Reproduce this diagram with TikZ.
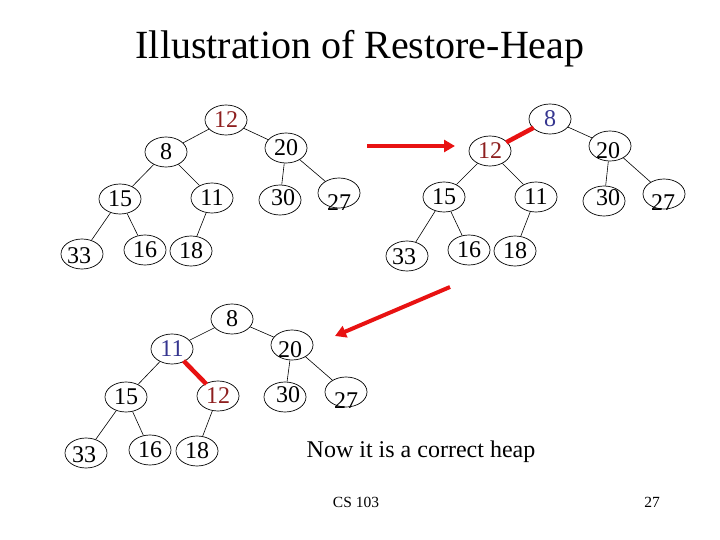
\documentclass[tikz,border=0pt]{standalone}
\usepackage{fontspec}
\setmainfont{Liberation Serif}
\usetikzlibrary{arrows.meta,shapes.geometric}
\definecolor{hred}{HTML}{8E1F1F}
\definecolor{hblue}{HTML}{35358F}
\definecolor{arrred}{HTML}{E81212}
\begin{document}
\begin{tikzpicture}[x=1pt,y=-1pt,
  hn/.style={draw,ellipse,line width=0.7pt,minimum width=42pt,minimum height=30pt,inner sep=0pt,font=\fontsize{24}{24}\selectfont},
  num/.style={inner sep=0pt,font=\fontsize{24}{24}\selectfont},
  edge/.style={line width=0.6pt},
  swap/.style={line width=4.5pt,draw=arrred,shorten <=-1pt,shorten >=-1pt},
  bigarrow/.style={line width=4pt,draw=arrred,-{Triangle[length=11pt,width=12pt]}}]
\useasboundingbox (0,0) rectangle (720,540);
\node[font=\fontsize{40}{40}\selectfont] (title) at (360,49) {Illustration of Restore-Heap};
% ---- tree 1
\node[hn,text=hred] (a12) at (226,120) {12};
\node[hn] (a8) at (166,152) {8};
\node[hn] (a20) at (286,148) {20};
\node[hn] (a15) at (120,199) {15};
\node[hn] (a11) at (212,198) {11};
\node[hn] (a30) at (280,200) {};
\node[num] (a30t) at (283,198) {30};
\node[hn] (a27) at (339,193) {};
\node[num] (a27t) at (339,203) {27};
\node[hn] (a33) at (82,254) {};
\node[num] (a33t) at (79,256) {33};
\node[hn] (a16) at (145,250) {16};
\node[hn] (a18) at (191,251) {18};
\draw[edge] (a12)--(a8) (a12)--(a20) (a8)--(a15) (a8)--(a11) (a20)--(a30) (a20)--(a27) (a15)--(a33) (a15)--(a16) (a11)--(a18);
% ---- tree 2
\node[hn,text=hblue] (b8) at (550,119) {8};
\node[hn,text=hred] (b12) at (490,151) {12};
\node[hn] (b20) at (610,146) {};
\node[num] (b20t) at (608,151) {20};
\node[hn] (b15) at (444,197) {15};
\node[hn] (b11) at (536,197) {11};
\node[hn] (b30) at (604,201) {};
\node[num] (b30t) at (608,198) {30};
\node[hn] (b27) at (664,194) {};
\node[num] (b27t) at (663,203) {27};
\node[hn] (b33) at (407,256) {};
\node[num] (b33t) at (404,257) {33};
\node[hn] (b16) at (469,250) {16};
\node[hn] (b18) at (515,251) {18};
\draw[edge] (b8)--(b20) (b12)--(b15) (b12)--(b11) (b20)--(b30) (b20)--(b27) (b15)--(b33) (b15)--(b16) (b11)--(b18);
\draw[swap] (b8)--(b12);
% ---- tree 3
\node[hn] (c8) at (232,319) {8};
\node[hn,text=hblue] (c11) at (172,349) {11};
\node[hn] (c20) at (292,345) {};
\node[num] (c20t) at (290,350) {20};
\node[hn] (c15) at (126,397) {15};
\node[hn,text=hred] (c12) at (218,396) {12};
\node[hn] (c30) at (285,397) {};
\node[num] (c30t) at (288,395) {30};
\node[hn] (c27) at (346,392) {};
\node[num] (c27t) at (346,401) {27};
\node[hn] (c33) at (86,453) {};
\node[num] (c33t) at (84,455) {33};
\node[hn] (c16) at (150,450) {16};
\node[hn] (c18) at (197,451) {18};
\draw[edge] (c8)--(c11) (c8)--(c20) (c11)--(c15) (c20)--(c30) (c20)--(c27) (c15)--(c33) (c15)--(c16) (c12)--(c18);
\draw[swap] (c11)--(c12);
% ---- arrows
\coordinate (p1) at (367,146);
\coordinate (q1) at (455,146);
\draw[bigarrow] (p1)--(q1);
\coordinate (p2) at (450,287);
\coordinate (q2) at (335,336);
\draw[bigarrow] (p2)--(q2);
% ---- texts
\node[font=\fontsize{24}{24}\selectfont] (note) at (421,452) {Now it is a correct heap};
\node[font=\fontsize{15.5}{15.5}\selectfont] (foot) at (356,502) {CS 103};
\node[font=\fontsize{15.5}{15.5}\selectfont] (page) at (652,502) {27};
\end{tikzpicture}
\end{document}
